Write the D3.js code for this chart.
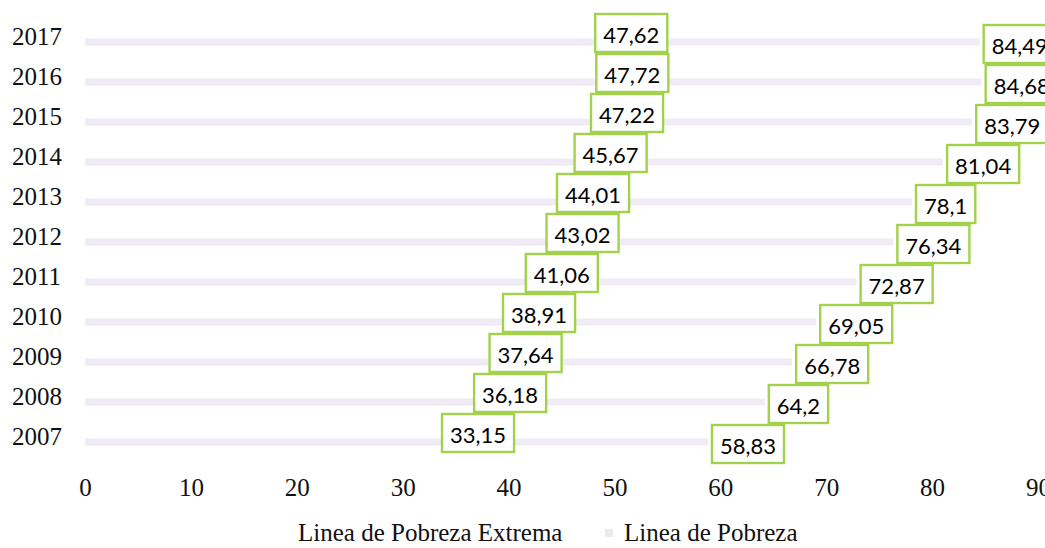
<!DOCTYPE html>
<html>
<head>
<meta charset="utf-8">
<script src="https://cdn.jsdelivr.net/npm/d3@7"></script>
<style>
  body { margin: 0; background: #fff; }
  svg { display: block; }
</style>
</head>
<body>
<div id="chart"></div>
<script>
// Datos
const years = ['2007', '2008', '2009', '2010', '2011', '2012', '2013', '2014', '2015', '2016', '2017'];
const extrema = [33.15, 36.18, 37.64, 38.91, 41.06, 43.02, 44.01, 45.67, 47.22, 47.72, 47.62];
const pobreza = [58.83, 64.2, 66.78, 69.05, 72.87, 76.34, 78.1, 81.04, 83.79, 84.68, 84.49];
const xTicks = [0, 10, 20, 30, 40, 50, 60, 70, 80, 90];
const seriesNames = ['Linea de Pobreza Extrema', 'Linea de Pobreza'];

const width = 1045;
const height = 548;

const svg = d3.select('#chart')
  .append('svg')
  .attr('width', width)
  .attr('height', height);

const x = d3.scaleLinear()
  .domain([0, 90])
  .range([85, 1038]);

// 2017 arriba
const y = d3.scalePoint()
  .domain(years.slice().reverse())
  .range([42, 442]);

// desplazamiento vertical de las etiquetas por serie
const labelOffset = d3.scalePoint()
  .domain(seriesNames)
  .range([-9, 2]);

const barH = 7;
const barColor = '#f1ebf5';
const green = '#a2d24c';
const fmt = v => String(v).replace('.', ',');

// barras
const rows = years.map((yr, i) => ({ year: yr, ext: extrema[i], pob: pobreza[i] }));

svg.selectAll('rect.pob')
  .data(rows)
  .enter()
  .append('rect')
  .attr('class', 'pob')
  .attr('x', x(0))
  .attr('y', d => y(d.year) - barH / 2)
  .attr('width', d => x(d.pob) - x(0))
  .attr('height', barH)
  .attr('fill', barColor);

svg.selectAll('rect.ext')
  .data(rows)
  .enter()
  .append('rect')
  .attr('class', 'ext')
  .attr('x', x(0))
  .attr('y', d => y(d.year) - barH / 2)
  .attr('width', d => x(d.ext) - x(0))
  .attr('height', barH)
  .attr('fill', barColor);

// etiquetas de año
svg.selectAll('text.year')
  .data(years)
  .enter()
  .append('text')
  .attr('class', 'year')
  .attr('x', 12)
  .attr('y', d => y(d) + 3)
  .attr('font-family', 'Liberation Serif, serif')
  .attr('font-size', '25px')
  .attr('fill', '#111')
  .text(d => d);

// eje x
const xAxis = d3.axisBottom(x)
  .tickValues(xTicks)
  .tickSize(0)
  .tickPadding(0);

const gx = svg.append('g')
  .attr('transform', 'translate(0, 478)')
  .call(xAxis);
gx.select('.domain').remove();
gx.selectAll('text')
  .attr('font-family', 'Liberation Serif, serif')
  .attr('font-size', '25px')
  .attr('fill', '#111');

// etiquetas de datos con borde verde
function addLabels(values, name, dx) {
  const g = svg.append('g');
  values.forEach((v, i) => {
    const cy = y(years[i]) + labelOffset(name);
    const lbl = g.append('g');
    const t = lbl.append('text')
      .attr('font-family', 'Lato, sans-serif')
      .attr('font-size', '22px')
      .attr('fill', '#000')
      .attr('dominant-baseline', 'central')
      .text(fmt(v));
    const tw = t.node().getComputedTextLength();
    const bx = x(v) + dx;
    const bw = tw + 16;
    lbl.insert('rect', 'text')
      .attr('x', bx)
      .attr('y', cy - 19)
      .attr('width', bw)
      .attr('height', 38)
      .attr('fill', '#fff')
      .attr('stroke', green)
      .attr('stroke-width', 2.4);
    t.attr('x', bx + 8).attr('y', cy + 1);
  });
}
addLabels(extrema, seriesNames[0], 6);
addLabels(pobreza, seriesNames[1], 4);

// leyenda
const legend = svg.append('g');
legend.append('text')
  .attr('x', 298)
  .attr('y', 541)
  .attr('font-family', 'Liberation Serif, serif')
  .attr('font-size', '25px')
  .attr('fill', '#111')
  .text(seriesNames[0]);
legend.append('rect')
  .attr('x', 605)
  .attr('y', 529)
  .attr('width', 8)
  .attr('height', 8)
  .attr('fill', '#ebe8f0');
legend.append('text')
  .attr('x', 624)
  .attr('y', 541)
  .attr('font-family', 'Liberation Serif, serif')
  .attr('font-size', '25px')
  .attr('fill', '#111')
  .text(seriesNames[1]);
</script>
</body>
</html>
